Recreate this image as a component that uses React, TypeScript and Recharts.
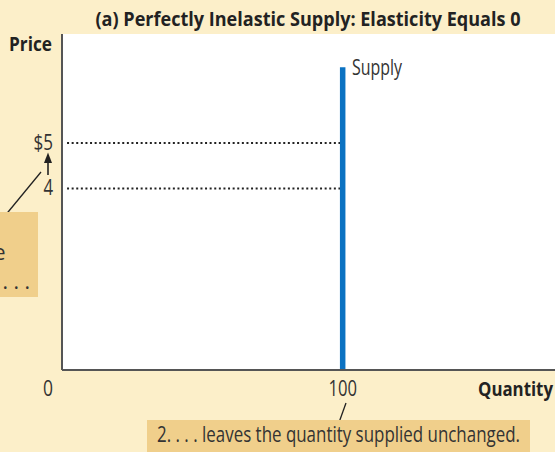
import { ComposedChart, Line, XAxis, YAxis, CartesianGrid } from "recharts";

// values
const supplyQuantity = 100;
const supplyPriceTop = 6.67;
const priceLevels = [5, 4];
const priceTickLabels = ["$5", "4"];
const quantityTicks = [0, 100];
const quantityTickLabels = ["0", "100"];
const guideStartQuantity = 1.8;

const supplyData = [
  { q: supplyQuantity, p: 0 },
  { q: supplyQuantity, p: supplyPriceTop },
];

const guideData = priceLevels.map((p) => [
  { q: guideStartQuantity, p },
  { q: supplyQuantity, p },
]);

const CREAM = "#FCEFC9";
const TAN = "#F0CF8B";
const INK = "#333";
const FONT = "'Open Sans', 'DejaVu Sans', sans-serif";

const tickWidths: Record<string, number> = { "$5": 19.5, "4": 9.6, "0": 10, "100": 28.5 };

function QuantityTick(props: any) {
  const { x, y, payload } = props;
  const i = quantityTicks.indexOf(payload.value);
  const label = quantityTickLabels[i] ?? String(payload.value);
  const shift = payload.value === 0 ? -14 : 0;
  return (
    <text
      x={x + shift}
      y={y + 26}
      textAnchor="middle"
      fill={INK}
      fontFamily={FONT}
      fontSize={21}
      textLength={tickWidths[label]}
      lengthAdjust="spacingAndGlyphs"
    >
      {label}
    </text>
  );
}

function PriceTick(props: any) {
  const { x, y, payload } = props;
  const i = priceLevels.indexOf(payload.value);
  const label = priceTickLabels[i] ?? String(payload.value);
  return (
    <text
      x={x}
      y={y + 7}
      textAnchor="end"
      fill={INK}
      fontFamily={FONT}
      fontSize={21}
      textLength={tickWidths[label]}
      lengthAdjust="spacingAndGlyphs"
    >
      {label}
    </text>
  );
}

function Notes() {
  const txt = { fontFamily: FONT, fill: INK, lengthAdjust: "spacingAndGlyphs" as const };
  return (
    <svg
      width={555}
      height={452}
      style={{ position: "absolute", left: 0, top: 0, pointerEvents: "none" }}
    >
      <text {...txt} x={308} y={26} textAnchor="middle" fontSize={20} fontWeight={700} fill="#222" textLength={425}>
        (a) Perfectly Inelastic Supply: Elasticity Equals 0
      </text>
      <text {...txt} x={9} y={51} fontSize={20} fontWeight={700} fill="#222" textLength={43}>
        Price
      </text>
      <text {...txt} x={553} y={396} textAnchor="end" fontSize={20} fontWeight={700} fill="#222" textLength={75}>
        Quantity
      </text>
      <text {...txt} x={352} y={75} fontSize={21} textLength={50}>
        Supply
      </text>

      {/* arrow from 4 up to $5 */}
      <line x1={48} y1={175} x2={48} y2={158} stroke="#222" strokeWidth={1.6} />
      <path d="M44,163 L48,152.5 L52,163 Z" fill="#222" />

      {/* left note, mostly outside the frame */}
      <line x1={41} y1={172} x2={1.5} y2={220} stroke="#222" strokeWidth={1.3} />
      <rect x={-10} y={212} width={48} height={85} fill={TAN} />
      <text {...txt} x={5.5} y={260} textAnchor="end" fontSize={21}>
        1. An increase
      </text>
      <text {...txt} x={30} y={289} textAnchor="end" fontSize={21}>
        in price . . .
      </text>

      {/* bottom note */}
      <line x1={346} y1={403} x2={337} y2={428} stroke="#222" strokeWidth={1.3} />
      <rect x={147} y={420} width={383} height={32} fill={TAN} />
      <text {...txt} x={157} y={442} fontSize={21} textLength={363}>
        2. . . . leaves the quantity supplied unchanged.
      </text>
    </svg>
  );
}

export default function App() {
  return (
    <div
      style={{
        position: "absolute",
        left: 0,
        top: 0,
        width: 555,
        height: 452,
        overflow: "hidden",
        background: CREAM,
      }}
    >
      <ComposedChart width={556} height={452} margin={{ top: 34, right: 0, bottom: 0, left: 0 }}>
        <CartesianGrid fill="#fff" stroke="none" horizontal={false} vertical={false} />
        <XAxis
          dataKey="q"
          type="number"
          domain={[0, 176]}
          ticks={quantityTicks}
          height={82}
          axisLine={{ stroke: "#555", strokeWidth: 2 }}
          tickLine={false}
          tickSize={0}
          tickMargin={0}
          tick={<QuantityTick />}
          allowDataOverflow
        />
        <YAxis
          dataKey="p"
          type="number"
          domain={[0, 7.4]}
          ticks={priceLevels}
          width={62}
          axisLine={{ stroke: "#555", strokeWidth: 2 }}
          tickLine={false}
          tickSize={0}
          tickMargin={9}
          tick={<PriceTick />}
          allowDataOverflow
        />
        {guideData.map((d, i) => (
          <Line
            key={i}
            data={d}
            dataKey="p"
            stroke="#222"
            strokeWidth={2}
            strokeDasharray="2 2.6"
            dot={false}
            activeDot={false}
            isAnimationActive={false}
          />
        ))}
        <Line
          data={supplyData}
          dataKey="p"
          stroke="#0B72C2"
          strokeWidth={5.5}
          dot={false}
          activeDot={false}
          isAnimationActive={false}
        />
      </ComposedChart>
      <Notes />
    </div>
  );
}
